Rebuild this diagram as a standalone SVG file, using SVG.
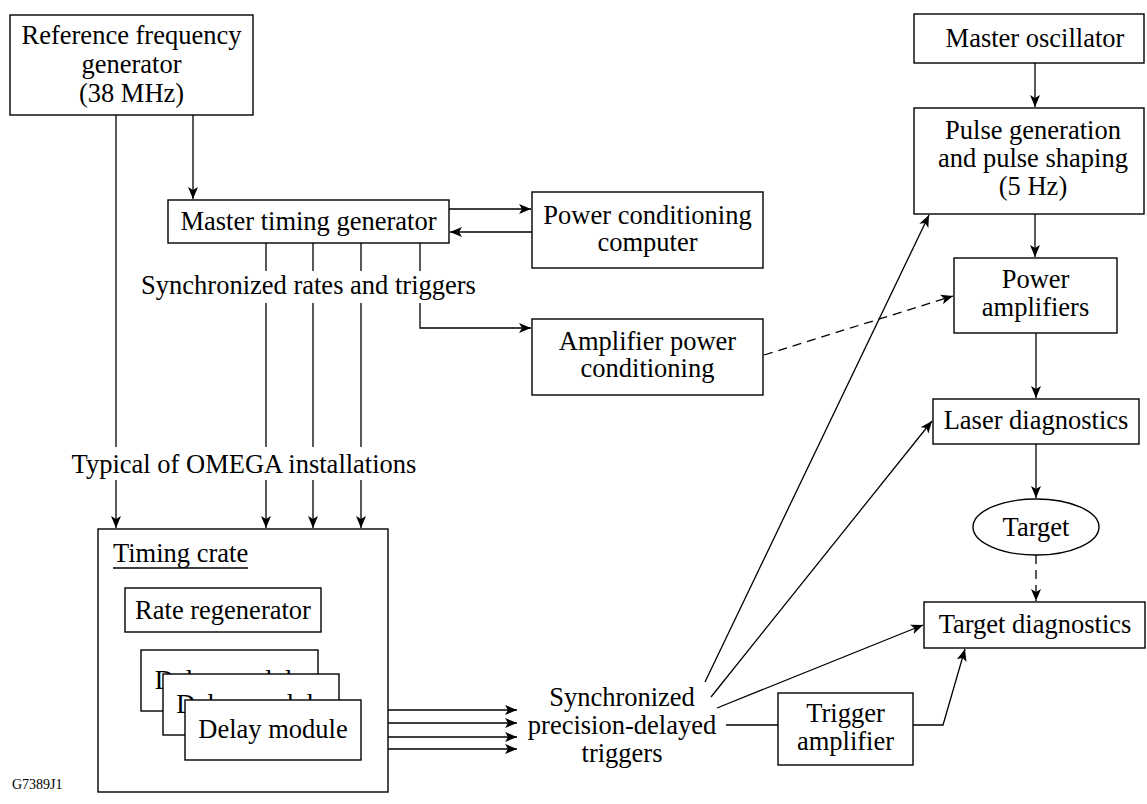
<svg xmlns="http://www.w3.org/2000/svg" width="1147" height="804" viewBox="0 0 1147 804">
<style>
.box{fill:#fff;stroke:#000;stroke-width:1.4}
.t{font-family:"Liberation Serif","Times New Roman",serif;font-size:26.5px;fill:#000;text-anchor:middle}
.ts{font-family:"Liberation Serif","Times New Roman",serif;font-size:14px;fill:#000}
.ln{fill:none;stroke:#000;stroke-width:1.3}
.ar{marker-end:url(#ah)}
.ds{stroke-dasharray:9 6}
</style>
<defs>
<marker id="ah" markerUnits="userSpaceOnUse" markerWidth="14" markerHeight="12" viewBox="0 -6 14 12" refX="12" refY="0" orient="auto">
<path d="M0,-5 L12,0 L0,5 L3,0 z" fill="#000"/>
</marker>
</defs>
<rect width="1147" height="804" fill="#fff"/>

<g id="connectors">
<!-- ref gen to master timing -->
<line class="ln ar" x1="193" y1="115" x2="193" y2="199"/>
<!-- ref gen to timing crate -->
<line class="ln" x1="116" y1="115" x2="116" y2="447"/>
<line class="ln ar" x1="116" y1="480" x2="116" y2="528"/>
<!-- master timing to crate -->
<line class="ln" x1="266" y1="243" x2="266" y2="271"/>
<line class="ln" x1="266" y1="303" x2="266" y2="447"/>
<line class="ln ar" x1="266" y1="480" x2="266" y2="528"/>
<line class="ln" x1="313" y1="243" x2="313" y2="271"/>
<line class="ln" x1="313" y1="303" x2="313" y2="447"/>
<line class="ln ar" x1="313" y1="480" x2="313" y2="528"/>
<line class="ln" x1="361" y1="243" x2="361" y2="271"/>
<line class="ln" x1="361" y1="303" x2="361" y2="447"/>
<line class="ln ar" x1="361" y1="480" x2="361" y2="528"/>
<!-- master timing to amplifier power conditioning -->
<line class="ln" x1="420" y1="243" x2="420" y2="271"/>
<polyline class="ln ar" points="420,303 420,328 531,328"/>
<!-- master timing <-> power conditioning computer -->
<line class="ln ar" x1="449" y1="209" x2="531" y2="209"/>
<line class="ln ar" x1="532" y1="232" x2="450" y2="232"/>
<!-- amplifier power conditioning to power amplifiers (dashed) -->
<line class="ln ds ar" x1="764" y1="355" x2="953" y2="296"/>
<!-- right column -->
<line class="ln ar" x1="1035" y1="63" x2="1035" y2="107"/>
<line class="ln ar" x1="1035" y1="214" x2="1035" y2="257"/>
<line class="ln ar" x1="1036" y1="333" x2="1036" y2="398"/>
<line class="ln ar" x1="1036" y1="444" x2="1036" y2="498"/>
<line class="ln ds ar" x1="1036" y1="555" x2="1036" y2="601"/>
<!-- delay module outputs -->
<line class="ln ar" x1="361" y1="710" x2="517" y2="710"/>
<line class="ln ar" x1="361" y1="723" x2="517" y2="723"/>
<line class="ln ar" x1="361" y1="737" x2="517" y2="737"/>
<line class="ln ar" x1="361" y1="749" x2="517" y2="749"/>
<!-- synchronized triggers fan-out -->
<line class="ln ar" x1="705" y1="682" x2="929" y2="215"/>
<line class="ln ar" x1="711" y1="697" x2="932" y2="421"/>
<line class="ln ar" x1="717" y1="708" x2="923" y2="625"/>
<line class="ln" x1="726" y1="725" x2="778" y2="725"/>
<polyline class="ln ar" points="913,725 943,725 965,649"/>
</g>

<g id="ref-gen">
<rect class="box" x="10" y="15" width="243" height="100"/>
<text class="t" x="131.5" y="44">Reference frequency</text>
<text class="t" x="131.5" y="73">generator</text>
<text class="t" x="131.5" y="102">(38 MHz)</text>
</g>

<g id="master-timing">
<rect class="box" x="168" y="200" width="281" height="43"/>
<text class="t" x="308.5" y="230">Master timing generator</text>
</g>

<g id="label-sync-rates">
<text class="t" x="308.5" y="294">Synchronized rates and triggers</text>
</g>

<g id="power-computer">
<rect class="box" x="532" y="192" width="231" height="76"/>
<text class="t" x="647.5" y="224">Power conditioning</text>
<text class="t" x="647.5" y="251">computer</text>
</g>

<g id="amp-power">
<rect class="box" x="532" y="319" width="231" height="76"/>
<text class="t" x="647.5" y="350">Amplifier power</text>
<text class="t" x="647.5" y="377">conditioning</text>
</g>

<g id="label-typical">
<text class="t" x="244" y="473">Typical of OMEGA installations</text>
</g>

<g id="timing-crate">
<rect class="box" x="98" y="529" width="290" height="263"/>
<text class="t" x="113" y="562" style="text-anchor:start">Timing crate</text>
<line class="ln" x1="113" y1="568" x2="248" y2="568"/>
</g>

<g id="rate-regen">
<rect class="box" x="125" y="588" width="196" height="44"/>
<text class="t" x="223" y="619">Rate regenerator</text>
</g>

<g id="delay-module-3">
<rect class="box" x="141" y="650" width="177" height="61"/>
<text class="t" x="229.5" y="689">Delay module</text>
</g>
<g id="delay-module-2">
<rect class="box" x="163" y="674" width="176" height="61"/>
<text class="t" x="251" y="713">Delay module</text>
</g>
<g id="delay-module-1">
<rect class="box" x="185" y="700" width="176" height="60"/>
<text class="t" x="273" y="738">Delay module</text>
</g>

<g id="label-sync-triggers">
<text class="t" x="622" y="706">Synchronized</text>
<text class="t" x="622" y="734">precision-delayed</text>
<text class="t" x="622" y="762">triggers</text>
</g>

<g id="trigger-amp">
<rect class="box" x="778" y="693" width="135" height="72"/>
<text class="t" x="845.5" y="722">Trigger</text>
<text class="t" x="845.5" y="750">amplifier</text>
</g>

<g id="master-osc">
<rect class="box" x="914" y="14" width="230" height="49"/>
<text class="t" x="1035" y="47">Master oscillator</text>
</g>

<g id="pulse-gen">
<rect class="box" x="914" y="108" width="230" height="106"/>
<text class="t" x="1033" y="139">Pulse generation</text>
<text class="t" x="1033" y="167">and pulse shaping</text>
<text class="t" x="1033" y="195">(5 Hz)</text>
</g>

<g id="power-amps">
<rect class="box" x="954" y="258" width="163" height="75"/>
<text class="t" x="1035.5" y="288">Power</text>
<text class="t" x="1035.5" y="316">amplifiers</text>
</g>

<g id="laser-diag">
<rect class="box" x="933" y="399" width="206" height="45"/>
<text class="t" x="1036" y="429">Laser diagnostics</text>
</g>

<g id="target">
<ellipse class="box" cx="1036" cy="527" rx="63" ry="28"/>
<text class="t" x="1036" y="536">Target</text>
</g>

<g id="target-diag">
<rect class="box" x="924" y="602" width="221" height="46"/>
<text class="t" x="1035" y="633">Target diagnostics</text>
</g>

<text class="ts" x="12" y="789">G7389J1</text>
</svg>
